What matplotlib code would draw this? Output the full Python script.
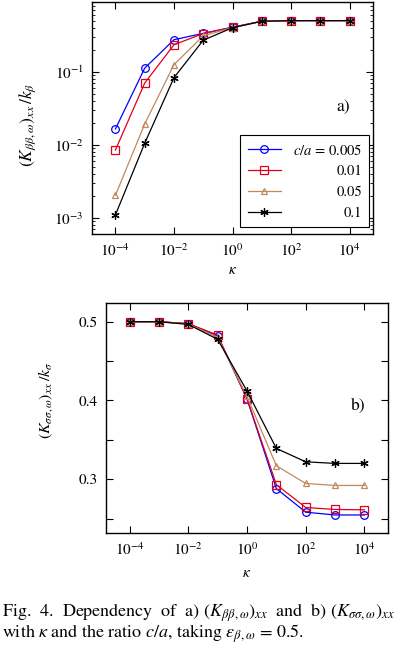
import numpy as np
import matplotlib
matplotlib.use("Agg")
import matplotlib.pyplot as plt
from matplotlib.ticker import NullLocator, LogLocator, NullFormatter, MultipleLocator

plt.rcParams['font.family'] = ['STIXGeneral', 'DejaVu Serif']
plt.rcParams['mathtext.fontset'] = 'stix'

kappa = [1e-4, 1e-3, 1e-2, 1e-1, 1e0, 1e1, 1e2, 1e3, 1e4]
labels = ["$c/a$ = 0.005", "0.01", "0.05", "0.1"]

# panel a)  (K_bb,w)_xx / k_b
kb_005 = [0.0165, 0.112, 0.274, 0.335, 0.406, 0.49, 0.5, 0.5, 0.5]
kb_01 = [0.0085, 0.070, 0.234, 0.333, 0.405, 0.49, 0.5, 0.5, 0.5]
kb_05 = [0.00204, 0.0193, 0.125, 0.31, 0.40, 0.49, 0.5, 0.5, 0.5]
kb_1 = [0.0011, 0.0105, 0.083, 0.27, 0.40, 0.49, 0.5, 0.5, 0.5]

# panel b)  (K_ss,w)_xx / k_s
ks_005 = [0.5, 0.5, 0.4975, 0.482, 0.402, 0.288, 0.258, 0.2545, 0.2545]
ks_01 = [0.5, 0.5, 0.4975, 0.483, 0.402, 0.293, 0.264, 0.2615, 0.261]
ks_05 = [0.5, 0.5, 0.497, 0.480, 0.405, 0.317, 0.2945, 0.292, 0.292]
ks_1 = [0.5, 0.5, 0.4966, 0.4776, 0.412, 0.339, 0.322, 0.320, 0.320]

colors = ['#0000ff', '#e0001a', '#c08a5e', '#000000']
markers = ['o', 's', '^', (6, 2, 0)]
msizes = [5.5, 5.5, 5, 6]

fig = plt.figure(figsize=(3.99, 6.54), dpi=100)
ax1 = fig.add_axes([0.2306, 0.642, 0.7044, 0.355])
ax2 = fig.add_axes([0.2657, 0.1855, 0.7067, 0.3515])

for ys, col, mk, ms, lab in zip([kb_005, kb_01, kb_05, kb_1], colors, markers, msizes, labels):
    ax1.plot(kappa, ys, color=col, marker=mk, ms=ms, mfc='none', mec=col, mew=0.9, lw=0.9, label=lab)

for ys, col, mk, ms in zip([ks_005, ks_01, ks_05, ks_1], colors, markers, msizes):
    ax2.plot(kappa, ys, color=col, marker=mk, ms=ms, mfc='none', mec=col, mew=0.9, lw=0.9)

for ax in (ax1, ax2):
    ax.set_xscale('log')
    ax.set_xlim(10 ** -4.8, 10 ** 4.8)
    ax.set_xticks([1e-4, 1e-2, 1e0, 1e2, 1e4])
    ax.xaxis.set_minor_locator(NullLocator())
    ax.tick_params(which='both', direction='in', top=True, right=True, labelsize=11)
    ax.tick_params(which='major', length=5, width=0.8)
    ax.tick_params(which='minor', length=2.5, width=0.6)
    ax.tick_params(axis='x', pad=6)
    ax.tick_params(axis='y', pad=6)
    for s in ax.spines.values():
        s.set_linewidth(1.0)

ax1.set_yscale('log')
ax1.set_ylim(6e-4, 0.9)
ax1.yaxis.set_major_locator(LogLocator(base=10, numticks=10))
ax1.yaxis.set_minor_locator(LogLocator(base=10, subs=np.arange(2, 10), numticks=20))
ax1.yaxis.set_minor_formatter(NullFormatter())

ax2.set_ylim(0.232, 0.524)
ax2.set_yticks([0.3, 0.4, 0.5])
ax2.set_yticklabels(['0.3', '0.4', '0.5'])
ax2.yaxis.set_minor_locator(MultipleLocator(0.05))
ax2.tick_params(axis='y', which='minor', length=5, width=0.8)

ax1.set_ylabel(r'$\left(K_{\beta\beta,\omega}\right)_{xx}\,/k_\beta$', fontsize=12.5)
ax1.yaxis.set_label_coords(-0.192, 0.47)
ax1.set_xlabel(r'$\kappa$', fontsize=11)
ax1.xaxis.set_label_coords(0.5, -0.125)

ax2.set_ylabel(r'$(K_{\sigma\sigma,\omega})_{xx}\,/k_\sigma$', fontsize=11.5)
ax2.yaxis.set_label_coords(-0.181, 0.577)
ax2.set_xlabel(r'$\kappa$', fontsize=11)
ax2.xaxis.set_label_coords(0.5, -0.149)

ax1.text(0.893, 0.547, 'a)', transform=ax1.transAxes, fontsize=12.5, ha='center', va='center')
ax2.text(0.894, 0.551, 'b)', transform=ax2.transAxes, fontsize=12.5, ha='center', va='center')

leg = ax1.legend(loc='lower right', bbox_to_anchor=(0.987, 0.031), borderaxespad=0,
                 fontsize=10.5, handlelength=2.3, labelspacing=0.5, fancybox=False,
                 framealpha=1, edgecolor='black', borderpad=0.5)
leg.get_frame().set_linewidth(0.8)

fig.text(0.006, 1 - 613 / 654,
         r'Fig.  4.  Dependency  of  a) $(K_{\beta\beta,\omega})_{xx}$  and  b) $(K_{\sigma\sigma,\omega})_{xx}$',
         fontsize=13, va='center', ha='left')
fig.text(0.006, 1 - 634 / 654,
         r'with $\kappa$ and the ratio $c/a$, taking $\varepsilon_{\beta,\omega}$ = 0.5.',
         fontsize=13, va='center', ha='left')

# right-align legend labels
fig.canvas.draw()
r = fig.canvas.get_renderer()
texts = leg.get_texts()
widths = [t.get_window_extent(r).width for t in texts]
wmax = max(widths)
for t, w in zip(texts, widths):
    t.set_position((wmax - w, 0))

fig.savefig('out.png', dpi=100)
